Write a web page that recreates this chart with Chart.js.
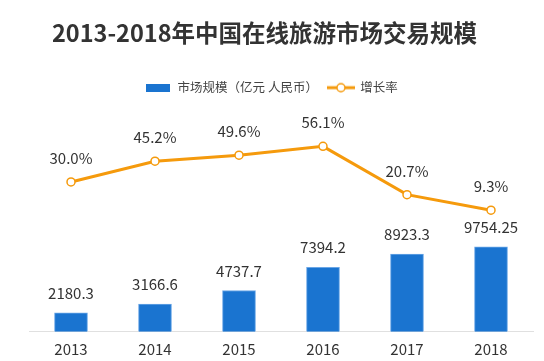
<!DOCTYPE html>
<html>
<head>
<meta charset="utf-8">
<script src="https://cdn.jsdelivr.net/npm/chart.js@4/dist/chart.umd.min.js"></script>
<style>
html,body{margin:0;padding:0;background:#fff;}
#wrap{position:relative;width:544px;height:361px;}
</style>
</head>
<body>
<div id="wrap"><canvas id="c" width="544" height="361"></canvas></div>
<script>
const categories = ['2013', '2014', '2015', '2016', '2017', '2018'];
const marketSize = [2180.3, 3166.6, 4737.7, 7394.2, 8923.3, 9754.25];
const marketSizeLabels = ['2180.3', '3166.6', '4737.7', '7394.2', '8923.3', '9754.25'];
const growthRate = [30.0, 45.2, 49.6, 56.1, 20.7, 9.3];
const growthRateLabels = ['30.0%', '45.2%', '49.6%', '56.1%', '20.7%', '9.3%'];
const seriesNames = ['市场规模（亿元 人民币）', '增长率'];
const titleText = '2013-2018年中国在线旅游市场交易规模';

const BLUE = '#1a74d0';
const ORANGE = '#f59a0c';
const FONT = "'Noto Sans CJK SC', 'Noto Sans', sans-serif";

function makeBarIcon() {
  const c = document.createElement('canvas');
  c.width = 24; c.height = 8;
  const x = c.getContext('2d');
  x.fillStyle = BLUE; x.fillRect(0, 0, 24, 8);
  return c;
}
function makeLineIcon() {
  const c = document.createElement('canvas');
  c.width = 28; c.height = 12;
  const x = c.getContext('2d');
  x.strokeStyle = ORANGE; x.lineWidth = 3;
  x.beginPath(); x.moveTo(0, 6); x.lineTo(28, 6); x.stroke();
  x.fillStyle = '#fff'; x.lineWidth = 1.5;
  x.beginPath(); x.arc(14, 6, 4, 0, Math.PI * 2); x.fill(); x.stroke();
  return c;
}
const barIcon = makeBarIcon();
const lineIcon = makeLineIcon();

const titlePlugin = {
  id: 'customTitle',
  afterDraw(chart) {
    const ctx = chart.ctx;
    ctx.save();
    ctx.font = "bold 23.5px " + FONT;
    ctx.fillStyle = '#333';
    ctx.textAlign = 'center';
    ctx.textBaseline = 'middle';
    ctx.fillText(titleText, 264.5, 33);
    ctx.restore();
  }
};

const valueLabels = {
  id: 'valueLabels',
  afterDatasetsDraw(chart) {
    const ctx = chart.ctx;
    ctx.save();
    ctx.font = "15px " + FONT;
    ctx.fillStyle = '#333';
    ctx.textAlign = 'center';
    ctx.textBaseline = 'alphabetic';
    chart.getDatasetMeta(0).data.forEach((el, i) => {
      ctx.fillText(marketSizeLabels[i], el.x, el.y - 14);
    });
    chart.getDatasetMeta(1).data.forEach((el, i) => {
      ctx.fillText(growthRateLabels[i], el.x, el.y - 18);
    });
    ctx.restore();
  }
};

new Chart(document.getElementById('c'), {
  data: {
    labels: categories,
    datasets: [
      {
        type: 'bar',
        label: seriesNames[0],
        data: marketSize,
        backgroundColor: BLUE,
        borderColor: '#6aa6e6',
        borderWidth: 1,
        barThickness: 33,
        yAxisID: 'yBar',
        order: 1
      },
      {
        type: 'line',
        label: seriesNames[1],
        data: growthRate,
        borderColor: ORANGE,
        borderWidth: 3,
        pointRadius: 4,
        pointBorderWidth: 1.5,
        pointBackgroundColor: '#fff',
        pointBorderColor: ORANGE,
        tension: 0,
        yAxisID: 'yRate',
        order: 0
      }
    ]
  },
  options: {
    responsive: false,
    animation: false,
    devicePixelRatio: 1,
    layout: { padding: { left: 0, right: 1, top: 71.4, bottom: 0 } },
    plugins: {
      title: { display: false },
      legend: {
        display: true,
        labels: {
          color: '#444',
          font: { family: FONT, size: 12.5 },
          usePointStyle: true,
          pointStyleWidth: 26,
          padding: 10,
          generateLabels() {
            return [
              { text: seriesNames[0], pointStyle: barIcon, fillStyle: BLUE, strokeStyle: BLUE, lineWidth: 0, datasetIndex: 0, fontColor: '#444' },
              { text: seriesNames[1], pointStyle: lineIcon, fillStyle: ORANGE, strokeStyle: ORANGE, lineWidth: 0, datasetIndex: 1, fontColor: '#444' }
            ];
          }
        }
      },
      tooltip: { enabled: false }
    },
    scales: {
      x: {
        grid: { display: false, drawTicks: false },
        border: { color: '#e0e0e0', width: 1 },
        ticks: { color: '#333', font: { family: FONT, size: 15 }, padding: 9 },
        afterFit(s) { s.height = 29.3; }
      },
      yBar: {
        display: true, position: 'left', min: 0, max: 26211,
        grid: { display: false }, border: { display: false }, ticks: { display: false },
        afterFit(s) { s.width = 29; }
      },
      yRate: {
        display: true, position: 'right', min: -79.7, max: 87.2,
        grid: { display: false }, border: { display: false }, ticks: { display: false },
        afterFit(s) { s.width = 10; }
      }
    }
  },
  plugins: [valueLabels, titlePlugin]
});
</script>
</body>
</html>
